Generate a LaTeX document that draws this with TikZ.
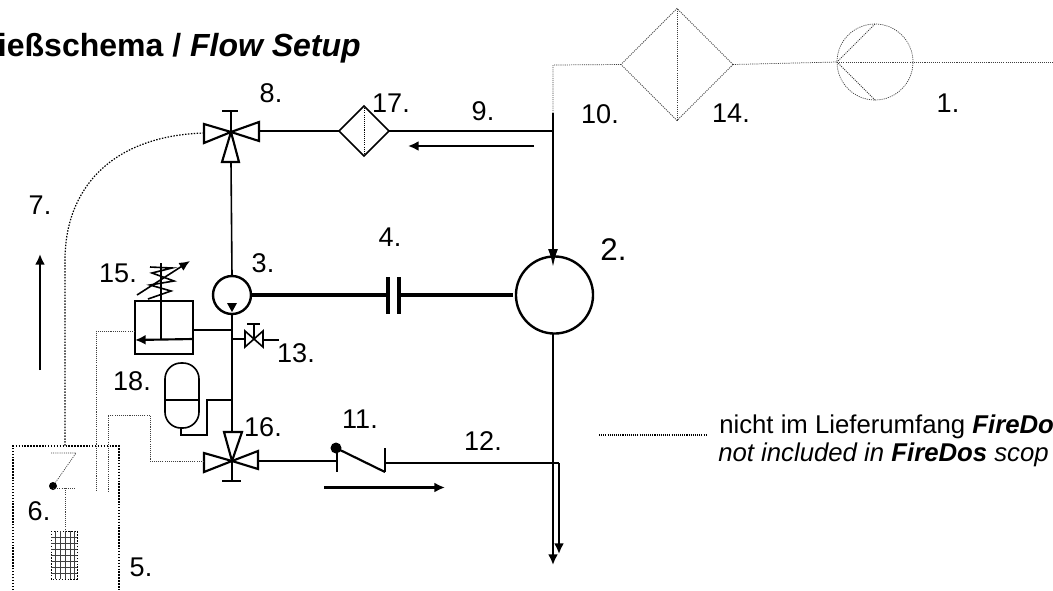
\documentclass[tikz,border=0pt]{standalone}
\usepackage{fontspec}
\setmainfont{Liberation Sans}
\usetikzlibrary{arrows.meta}
\usetikzlibrary{shapes.geometric}

\begin{document}
\begin{tikzpicture}[
		x=0.75pt, y=-0.75pt,
		pipe/.style={line width=1.2pt},
		heavy/.style={line width=1.6pt},
		shaft/.style={line width=3.6pt},
		tipped/.style={line width=1.6pt, -{Latex[length=8pt, width=7.5pt]}},
		finedot/.style={line width=0.55pt, dash pattern=on 0.8pt off 0.8pt, black!75},
		tankdot/.style={line width=0.9pt, dash pattern=on 1.1pt off 1.1pt},
		lbl/.style={font=\fontsize{20.3pt}{23pt}\selectfont, inner sep=0pt},
		legendtext/.style={font=\fontsize{19.3pt}{23pt}\selectfont, inner sep=0pt, anchor=base west},
		fluid/.style={circle, draw, line width=1.8pt, inner sep=0pt, outer sep=0pt},
		filterbox/.style={diamond, draw, pipe, inner sep=0pt, outer sep=0pt, aspect=1}
	]
	\useasboundingbox (0,0) rectangle (1053,590);

	% texts
	\node[anchor=base east, inner sep=0pt, font=\fontsize{24pt}{27pt}\selectfont\bfseries] (title) at (361,56) {ießschema / \textit{Flow Setup}};
	\node[legendtext] (legendde) at (719,433) {nicht im Lieferumfang \textbf{\textit{FireDo}}};
	\node[legendtext] (legenden) at (718,461) {\textit{not included in \textbf{FireDos} scop}};

	\node[lbl] (lblone) at (948,103) {1.};
	\node[lbl] (lbltwo) at (613.5,250) {\fontsize{23.5pt}{25pt}\selectfont 2.};
	\node[lbl] (lblthree) at (263,263) {3.};
	\node[lbl] (lblfour) at (390,237) {4.};
	\node[lbl] (lblfive) at (141,567) {5.};
	\node[lbl] (lblsix) at (39,511) {6.};
	\node[lbl] (lblseven) at (40,205) {7.};
	\node[lbl] (lbleight) at (271,93) {8.};
	\node[lbl] (lblnine) at (483,111) {9.};
	\node[lbl] (lblten) at (600,114) {10.};
	\node[lbl] (lbleleven) at (360,419) {11.};
	\node[lbl] (lbltwelve) at (483,441) {12.};
	\node[lbl] (lblthirteen) at (296,353) {13.};
	\node[lbl] (lblfourteen) at (731,113) {14.};
	\node[lbl] (lblfifteen) at (118,273) {15.};
	\node[lbl] (lblsixteen) at (263,427) {16.};
	\node[lbl] (lblseventeen) at (391,103) {17.};
	\node[lbl] (lbleighteen) at (132,381) {18.};

	% main parts
	\node[fluid, minimum size=57.8pt] (motor) at (554.5,295) {};
	\node[fluid, minimum size=28.5pt] (pump) at (232,295) {};
	\node[filterbox, minimum size=37.5pt] (filter) at (364,131) {};
	\node[draw, pipe, inner sep=0pt, outer sep=0pt, minimum width=43.5pt, minimum height=39.75pt] (relief) at (164,327.5) {};
	\node[draw, pipe, inner sep=0pt, outer sep=0pt, minimum width=25.5pt, minimum height=48.75pt, rounded corners=12pt] (accu) at (182,395.5) {};

	\coordinate (branchtop) at (553,113);
	\coordinate (branchnine) at (553,131);
	\coordinate (motortip) at (553,267);
	\coordinate (motorfoot) at (553,334);
	\coordinate (returnend) at (553,565);
	\coordinate (tankend) at (559,554);
	\coordinate (teetwelve) at (559,463);

	\coordinate (veight) at (231,132);
	\coordinate (veightleft) at (204,133);
	\coordinate (veightright) at (259,131);
	\coordinate (veightdown) at (231,162);
	\coordinate (vsixteen) at (232,461);
	\coordinate (vsixteenleft) at (204,461);
	\coordinate (vsixteenright) at (258,461);
	\coordinate (vsixteenup) at (232,432);

	% lines
	\draw[pipe] (veightright) -- (filter.west);
	\draw[pipe] (filter.east) -- (branchnine);
	\draw[finedot, black] (filter.north) -- (filter.south);
	\draw[heavy, -{Latex[length=13.5pt, width=7.5pt]}] (branchtop) -- (motortip);
	\draw[pipe] (veightdown) -- (pump.north);
	\draw[heavy] (pump.south) -- (vsixteenup);
	\draw[tipped] (motorfoot) -- (returnend);
	\draw[tipped] (teetwelve) -- (tankend);

	% shaft and coupling
	\coordinate (clutchleft) at (388,295);
	\coordinate (clutchright) at (399,295);
	\coordinate (shaftend) at (513,295);
	\draw[shaft] (pump.east) -- (clutchleft);
	\draw[shaft] (clutchright) -- (shaftend);
	\draw[line width=2.4pt] (388,277) -- (388,314);
	\draw[line width=2.4pt] (399,277) -- (399,314);

	% pump mark
	\fill (227,303) -- (237,303) -- (232,312) -- cycle;

	% valve 8
	\draw[heavy] (veight) -- (204,124) -- (204,143) -- cycle;
	\draw[heavy] (veight) -- (259,122) -- (259,141) -- cycle;
	\draw[heavy] (veight) -- (222,162) -- (239,162) -- cycle;
	\draw[heavy] (veight) -- (231,111);
	\draw[heavy] (222,111) -- (238,111);

	% valve 16
	\draw[heavy] (vsixteen) -- (204,453) -- (204,472) -- cycle;
	\draw[heavy] (vsixteen) -- (258,451) -- (258,469) -- cycle;
	\draw[heavy] (vsixteen) -- (224,432) -- (242,432) -- cycle;
	\draw[heavy] (vsixteen) -- (232,481);
	\draw[heavy] (222,481) -- (241,481);

	% check valve 11
	\coordinate (checkleft) at (337,461);
	\coordinate (checkright) at (385,463);
	\draw[pipe] (vsixteenright) -- (checkleft);
	\draw[pipe] (checkright) -- (teetwelve);
	\draw[pipe] (337,450) -- (337,472);
	\draw[pipe] (385,448) -- (385,472);
	\draw[heavy] (336,448) -- (385,472);
	\fill (336,448) circle (5.5);
	\draw[tipped] (324,487.5) -- (445,487.5);
	\draw[tipped] (534,146) -- (408,146);
	\draw[tipped] (40,370) -- (40,254);

	% relief valve 15
	\coordinate (reliefright) at (193,330);
	\coordinate (reliefleft) at (135,331);
	\draw[heavy] (reliefright) -- (232,330);
	\draw[tipped] (193,339) -- (135,340);
	\draw[pipe] (161,339) -- (161,263);
	\draw[pipe] (148,299) -- (171,291) -- (150,285) -- (174,281) -- (152,273) -- (172,268) -- (150,267);
	\draw[line width=1.2pt, -{Latex[length=8pt, width=7pt]}] (137,295) -- (190,261);

	% needle valve 13
	\draw[pipe] (232,339) -- (245,339);
	\draw[pipe] (245,331) -- (245,347) -- (263,331) -- (263,347) -- cycle;
	\draw[pipe] (254,339) -- (254,324);
	\draw[pipe] (247,324) -- (260,324);
	\draw[pipe] (263,340) -- (279,340);

	% accumulator 18
	\draw[pipe] (accu.west |- 0,400) -- (accu.east |- 0,400);
	\draw[heavy] (181,428) -- (181,435) -- (207,435) -- (207,400) -- (232,400);

	% not in scope
	\node[filterbox, finedot, minimum size=84pt] (cooler) at (677,64.5) {};
	\node[circle, draw, finedot, inner sep=0pt, outer sep=0pt, minimum size=57pt] (feedpump) at (875,62) {};
	\coordinate (feedend) at (1053,62);
	\coordinate (feedcorner) at (553,65);
	\draw[finedot] (branchtop) -- (feedcorner) -- (cooler.west);
	\draw[finedot] (cooler.north) -- (cooler.south);
	\draw[finedot] (cooler.east) -- (feedpump.west);
	\draw[finedot] (feedpump.west) -- (feedend);
	\draw[finedot] (feedpump.north) -- (feedpump.west) -- (feedpump.south);

	\coordinate (legendleft) at (599,435);
	\coordinate (legendright) at (707,435);
	\draw[line width=0.8pt, dash pattern=on 0.8pt off 0.8pt] (legendleft) -- (legendright);

	\draw[tankdot] (veightleft) .. controls (110,136) and (65,190) .. (65,260) -- (65,446);
	\draw[tankdot] (13,590) -- (13,446) -- (119,446) -- (119,590);
	\draw[finedot] (reliefleft) -- (96,331) -- (96,492);
	\draw[finedot] (vsixteenleft) -- (150,461) -- (150,415) -- (108,415) -- (108,492);

	% foot valve 6
	\draw[finedot] (51,453) -- (76,453) -- (53,486);
	\fill (53,486) circle (4);
	\draw[finedot] (53,488) -- (75,488);
	\draw[finedot] (65,488) -- (65,531);
	\draw[tankdot, line width=0.7pt] (51,531) rectangle (77,579);
	\foreach \gridx in {55,60,65,70,74}
		\draw[line width=0.4pt, black!75] (\gridx,531) -- (\gridx,579);
	\foreach \gridy in {537,543,549,555,561,567,573}
		\draw[line width=0.4pt, black!75] (51,\gridy) -- (77,\gridy);
\end{tikzpicture}
\end{document}
